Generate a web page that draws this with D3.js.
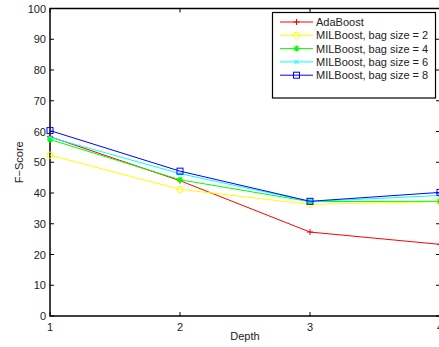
<!DOCTYPE html>
<html>
<head>
<meta charset="utf-8">
<script src="https://cdn.jsdelivr.net/npm/d3@7"></script>
<style>
  body { margin: 0; background: #fff; }
  text { font-family: "Liberation Sans", Arial, sans-serif; fill: #222; }
</style>
</head>
<body>
<div id="app"></div>
<script>
const depths = [1, 2, 3, 4];
const seriesNames = ["AdaBoost", "MILBoost, bag size = 2", "MILBoost, bag size = 4", "MILBoost, bag size = 6", "MILBoost, bag size = 8"];
const adaBoost = [58.3, 44, 27.3, 23.3];
const mil2 = [52.3, 41.2, 36.3, 37.2];
const mil4 = [57.4, 44.3, 37.2, 37.3];
const mil6 = [58.1, 46.3, 37.2, 39.2];
const mil8 = [60.3, 47.1, 37.3, 40.2];
const yTicks = [0, 10, 20, 30, 40, 50, 60, 70, 80, 90, 100];

const colors = ["#ff0000", "#ffff00", "#00ff00", "#00ffff", "#0000ff"];
const markers = ["plus", "circle", "star", "cross", "square"];
const allSeries = [adaBoost, mil2, mil4, mil6, mil8];

const svgWidth = 439, svgHeight = 347;
const margin = { left: 50, right: -1, top: 8.5, bottom: 31 };

const svg = d3.select("#app").append("svg")
    .attr("width", svgWidth)
    .attr("height", svgHeight);

const x = d3.scaleLinear().domain([1, 4]).range([margin.left, svgWidth - margin.right]);
const y = d3.scaleLinear().domain([0, 100]).range([svgHeight - margin.bottom, margin.top]);

const x0 = x.range()[0], x1 = x.range()[1], y0 = y.range()[0], y1 = y.range()[1];

// frame
svg.append("rect")
    .attr("x", x0).attr("y", y1)
    .attr("width", x1 - x0).attr("height", y0 - y1)
    .attr("fill", "none").attr("stroke", "#000").attr("stroke-width", 1.5);

// ticks inside, on all four sides
const tl = 4;
yTicks.forEach(t => {
    svg.append("line").attr("x1", x0).attr("x2", x0 + tl).attr("y1", y(t)).attr("y2", y(t)).attr("stroke", "#000");
    svg.append("line").attr("x1", x1).attr("x2", x1 - tl).attr("y1", y(t)).attr("y2", y(t)).attr("stroke", "#000");
    svg.append("text").attr("x", x0 - 4).attr("y", y(t) + 4)
        .attr("text-anchor", "end").attr("font-size", 11).text(t);
});
depths.forEach(t => {
    svg.append("line").attr("x1", x(t)).attr("x2", x(t)).attr("y1", y0).attr("y2", y0 - tl).attr("stroke", "#000");
    svg.append("line").attr("x1", x(t)).attr("x2", x(t)).attr("y1", y1).attr("y2", y1 + tl).attr("stroke", "#000");
    svg.append("text").attr("x", x(t)).attr("y", y0 + 15)
        .attr("text-anchor", "middle").attr("font-size", 11).text(t);
});

svg.append("text").attr("x", x(2.5)).attr("y", 340)
    .attr("text-anchor", "middle").attr("font-size", 11).text("Depth");
svg.append("text")
    .attr("transform", "translate(23," + y(50) + ") rotate(-90)")
    .attr("text-anchor", "middle").attr("font-size", 11).text("F\u2212Score");

function drawMarker(g, type, cx, cy, color) {
    const s = 3;
    if (type === "plus") {
        g.append("path").attr("d", `M${cx - s},${cy}H${cx + s}M${cx},${cy - s}V${cy + s}`).attr("stroke", color).attr("fill", "none");
    } else if (type === "circle") {
        g.append("circle").attr("cx", cx).attr("cy", cy).attr("r", 3.2).attr("stroke", color).attr("fill", "none");
    } else if (type === "star") {
        g.append("path").attr("d", `M${cx - s},${cy}H${cx + s}M${cx},${cy - s}V${cy + s}M${cx - 2.2},${cy - 2.2}L${cx + 2.2},${cy + 2.2}M${cx - 2.2},${cy + 2.2}L${cx + 2.2},${cy - 2.2}`)
            .attr("stroke", color).attr("stroke-width", 1.3).attr("fill", "none");
    } else if (type === "cross") {
        g.append("path").attr("d", `M${cx - 2.2},${cy - 2.2}L${cx + 2.2},${cy + 2.2}M${cx - 2.2},${cy + 2.2}L${cx + 2.2},${cy - 2.2}`).attr("stroke", color).attr("fill", "none");
    } else if (type === "square") {
        g.append("rect").attr("x", cx - 3).attr("y", cy - 3).attr("width", 6).attr("height", 6).attr("stroke", color).attr("fill", "none");
    }
}

const line = d3.line().x((d, i) => x(depths[i])).y(d => y(d));

allSeries.forEach((vals, k) => {
    const g = svg.append("g");
    g.append("path").datum(vals).attr("d", line)
        .attr("fill", "none").attr("stroke", colors[k]).attr("stroke-width", 1);
    vals.forEach((v, i) => drawMarker(g, markers[k], x(depths[i]), y(v), colors[k]));
});

// legend
const lg = svg.append("g");
lg.append("rect").attr("x", 272.5).attr("y", 12.5).attr("width", 163).attr("height", 85.5)
    .attr("fill", "#fff").attr("stroke", "#000").attr("stroke-width", 1.2);
seriesNames.forEach((name, k) => {
    const ly = 22 + k * 13.3;
    lg.append("line").attr("x1", 280).attr("x2", 313).attr("y1", ly).attr("y2", ly)
        .attr("stroke", colors[k]);
    drawMarker(lg, markers[k], 296.5, ly, colors[k]);
    lg.append("text").attr("x", 316).attr("y", ly + 4).attr("font-size", 11).text(name);
});
</script>
</body>
</html>
